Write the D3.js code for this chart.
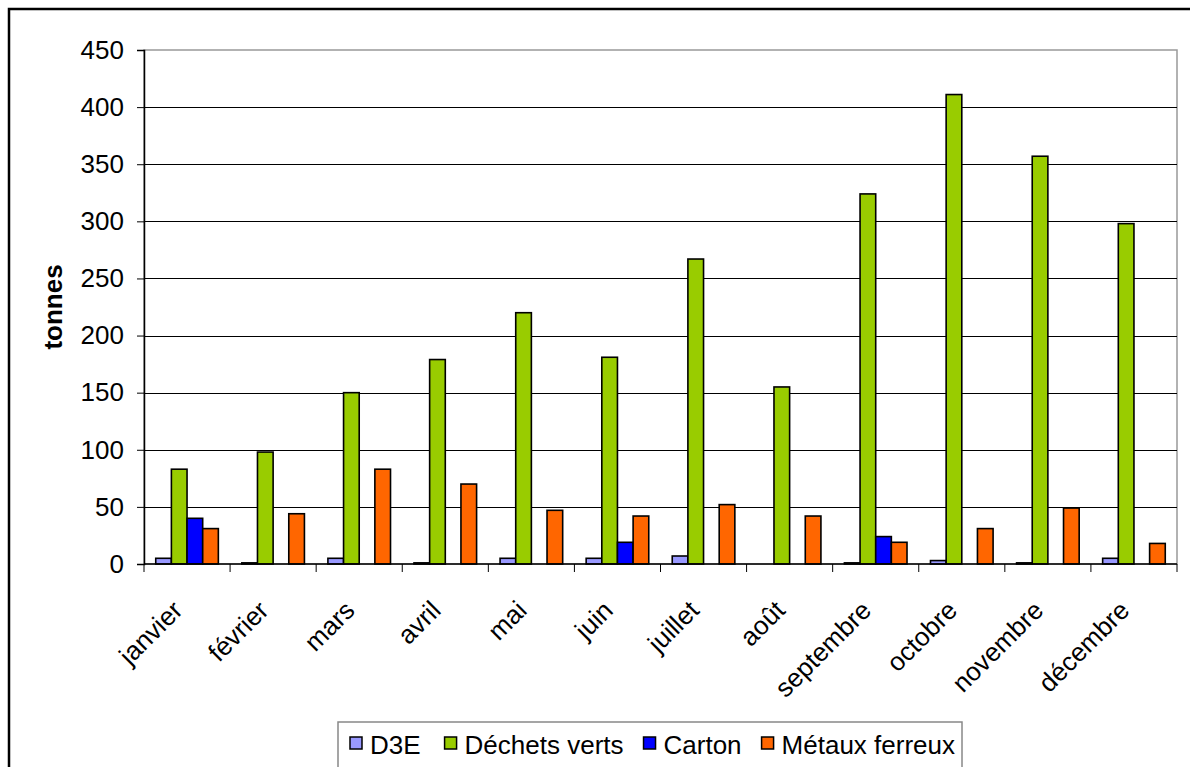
<!DOCTYPE html>
<html>
<head>
<meta charset="utf-8">
<script src="https://cdn.jsdelivr.net/npm/d3@7"></script>
<style>
  html, body { margin: 0; padding: 0; background: #fff; }
  svg { display: block; }
  text { font-family: "Liberation Sans", Arial, sans-serif; fill: #000; }
</style>
</head>
<body>
<svg id="chart" width="1190" height="767"></svg>
<script>
// Monthly tonnage per waste stream
const months = ["janvier", "février", "mars", "avril", "mai", "juin", "juillet", "août", "septembre", "octobre", "novembre", "décembre"];
const seriesNames = ["D3E", "Déchets verts", "Carton", "Métaux ferreux"];
const d3e = [5, 1, 5, 1, 5, 5, 7, 0, 1, 3, 1, 5];
const dechetsVerts = [83, 98, 150, 179, 220, 181, 267, 155, 324, 411, 357, 298];
const carton = [40, 0, 0, 0, 0, 19, 0, 0, 24, 0, 0, 0];
const metauxFerreux = [31, 44, 83, 70, 47, 42, 52, 42, 19, 31, 49, 18];
const yTicks = [0, 50, 100, 150, 200, 250, 300, 350, 400, 450];
const colors = ["#9999FF", "#99CC00", "#0000FF", "#FF6600"];

const seriesValues = [d3e, dechetsVerts, carton, metauxFerreux];

const svg = d3.select("#chart");

// outer chart frame
svg.append("rect")
  .attr("x", 9).attr("y", 9)
  .attr("width", 1200).attr("height", 800)
  .attr("fill", "#fff").attr("stroke", "#000").attr("stroke-width", 2.5);

const plot = { left: 144, top: 50, right: 1177, bottom: 564 };

const x = d3.scaleBand()
  .domain(months)
  .range([plot.left, plot.right])
  .paddingInner(0)
  .paddingOuter(0);

// four bars per month, with a gap of 150% of one bar width
const barW = x.bandwidth() / 5.5;
const xs = d3.scaleBand()
  .domain(seriesNames)
  .range([barW * 0.75, barW * 4.75]);

const y = d3.scaleLinear().domain([0, 450]).range([plot.bottom, plot.top]);

// plot area border (grey top/right)
svg.append("rect")
  .attr("x", plot.left).attr("y", plot.top)
  .attr("width", plot.right - plot.left).attr("height", plot.bottom - plot.top)
  .attr("fill", "#fff").attr("stroke", "#999").attr("stroke-width", 1.5);

// horizontal gridlines
svg.append("g")
  .selectAll("line")
  .data(yTicks.filter(t => t > 0 && t < 450))
  .join("line")
  .attr("x1", plot.left).attr("x2", plot.right)
  .attr("y1", d => Math.round(y(d)) + 0.5).attr("y2", d => Math.round(y(d)) + 0.5)
  .attr("stroke", "#000").attr("stroke-width", 1);

// bars
const rows = months.map((m, i) => ({ month: m, values: seriesNames.map((s, k) => ({ series: s, k, v: seriesValues[k][i] })) }));

svg.append("g")
  .selectAll("g")
  .data(rows)
  .join("g")
  .attr("transform", d => `translate(${x(d.month)},0)`)
  .selectAll("rect")
  .data(d => d.values.filter(v => v.v > 0))
  .join("rect")
  .attr("x", d => xs(d.series))
  .attr("width", xs.bandwidth())
  .attr("y", d => y(d.v))
  .attr("height", d => y(0) - y(d.v))
  .attr("fill", d => colors[d.k])
  .attr("stroke", "#000")
  .attr("stroke-width", 1.6);

// y axis
const yAxis = svg.append("g")
  .attr("transform", `translate(${plot.left},0)`)
  .call(d3.axisLeft(y).tickValues(yTicks).tickSize(7).tickPadding(13).tickFormat(d3.format("d")));
yAxis.select(".domain").attr("stroke", "#000").attr("stroke-width", 1.5);
yAxis.selectAll(".tick line").attr("stroke", "#000");
yAxis.selectAll(".tick text")
  .style("font-family", '"Liberation Sans", Arial, sans-serif')
  .style("font-size", "26px")
  .attr("fill", "#000");

// x axis baseline and ticks at category boundaries
const xAxisG = svg.append("g");
xAxisG.append("line")
  .attr("x1", plot.left).attr("x2", plot.right)
  .attr("y1", plot.bottom).attr("y2", plot.bottom)
  .attr("stroke", "#000").attr("stroke-width", 1.5);
const boundaries = months.map(m => x(m)).concat([plot.right]);
xAxisG.selectAll("line.tk")
  .data(boundaries)
  .join("line")
  .attr("class", "tk")
  .attr("x1", d => d).attr("x2", d => d)
  .attr("y1", plot.bottom).attr("y2", plot.bottom + 8)
  .attr("stroke", "#000").attr("stroke-width", 1);

// rotated month labels
xAxisG.selectAll("text")
  .data(months)
  .join("text")
  .attr("text-anchor", "end")
  .attr("transform", d => `translate(${x(d) + x.bandwidth() / 2 - 3},612) rotate(-45)`)
  .style("font-size", "26px")
  .text(d => d);

// y axis title
svg.append("text")
  .attr("transform", `translate(62,${(plot.top + plot.bottom) / 2}) rotate(-90)`)
  .attr("text-anchor", "middle")
  .style("font-size", "26px")
  .style("font-weight", "bold")
  .text("tonnes");

// legend: key square, label, then a gap (wider after the first entry)
const legend = svg.append("g");
legend.append("rect")
  .attr("x", 338).attr("y", 722)
  .attr("width", 624).attr("height", 70)
  .attr("fill", "#fff").attr("stroke", "#888").attr("stroke-width", 1.5);

const gapsAfter = [24, 20, 20, 0];
let lx = 350;
seriesNames.forEach((name, k) => {
  legend.append("rect")
    .attr("x", lx).attr("y", 737)
    .attr("width", 12).attr("height", 12)
    .attr("fill", colors[k]).attr("stroke", "#000").attr("stroke-width", 1.5);
  const t = legend.append("text")
    .attr("x", lx + 20).attr("y", 754)
    .style("font-size", "26px")
    .text(name);
  lx += 20 + t.node().getComputedTextLength() + gapsAfter[k];
});
</script>
</body>
</html>
